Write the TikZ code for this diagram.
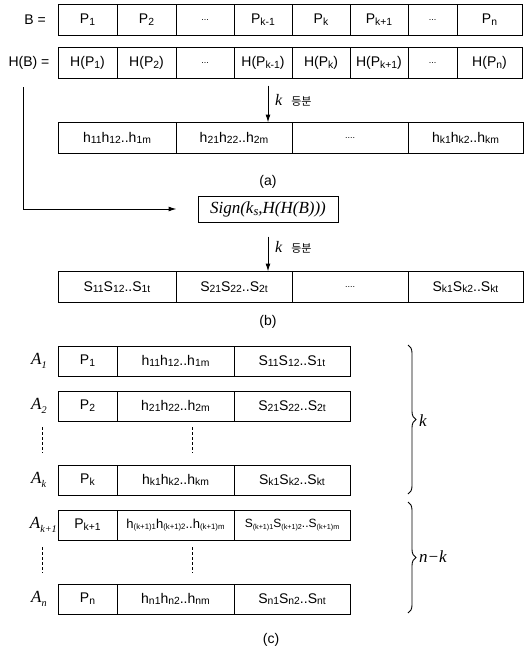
\documentclass[tikz,border=0pt]{standalone}
\usepackage{fontspec}
\setmainfont{Liberation Sans}
\newfontfamily\timesf{Liberation Serif}
\newfontfamily\kor{Noto Sans CJK KR}
\usepackage{tikz}
\usetikzlibrary{positioning, arrows.meta, calc, decorations.pathreplacing}
\newcommand{\bas}[1]{\raisebox{-0.12em}{\scalebox{0.74}{#1}}}
\newcommand{\basp}[1]{\raisebox{-0.1em}{\scalebox{0.6}{#1}}}
\newcommand{\basa}[1]{\raisebox{-0.25em}{\scalebox{0.6}{#1}}}
\tikzset{
	cell/.style={
		draw,
		line width=1pt,
		minimum height=31pt,
		inner sep=0pt,
		outer sep=0pt,
		anchor=west,
		font=\fontsize{14}{16}\selectfont
	},
	fleche/.style={
		-{Latex[length=8pt,width=5pt]},
		line width=1pt
	}
}

\begin{document}
\begin{tikzpicture}[x=1pt, y=-1pt]
		\tikzstyle{lbl}=[inner sep=0pt, font=\fontsize{14}{16}\selectfont]
		\tikzstyle{alab}=[inner sep=0pt, anchor=west, font=\fontsize{17}{19}\selectfont\timesf\itshape]
		\tikzstyle{accol}=[decorate, decoration={brace, amplitude=8pt}, line width=0.9pt]
		\tikzstyle{pointille}=[densely dashed, line width=1pt]
		\useasboundingbox (0,0) rectangle (527,653);
		
		% Ligne B
		\node[lbl] (Blbl) at (35,20) {B =};
		\node[cell, minimum width=59pt] (B1) at (58,20) {P\bas{1}};
		\node[cell, minimum width=59pt, right=0pt of B1] (B2) {P\bas{2}};
		\node[cell, minimum width=58pt, right=0pt of B2] (B3) {\small...};
		\node[cell, minimum width=58pt, right=0pt of B3] (B4) {P\bas{k-1}};
		\node[cell, minimum width=58pt, right=0pt of B4] (B5) {P\bas{k}};
		\node[cell, minimum width=58pt, right=0pt of B5] (B6) {P\bas{k+1}};
		\node[cell, minimum width=49pt, right=0pt of B6] (B7) {\small...};
		\node[cell, minimum width=65pt, right=0pt of B7] (B8) {P\bas{n}};
		
		% Ligne H(B)
		\node[lbl] (HBlbl) at (29,63) {H(B) =};
		\node[cell, minimum width=59pt] (HP1) at (58,63) {H(P\bas{1})};
		\node[cell, minimum width=59pt, right=0pt of HP1] (HP2) {H(P\bas{2})};
		\node[cell, minimum width=58pt, right=0pt of HP2] (HP3) {\small...};
		\node[cell, minimum width=58pt, right=0pt of HP3] (HP4) {H(P\bas{k-1})};
		\node[cell, minimum width=58pt, right=0pt of HP4] (HP5) {H(P\bas{k})};
		\node[cell, minimum width=58pt, right=0pt of HP5] (HP6) {H(P\bas{k+1})};
		\node[cell, minimum width=49pt, right=0pt of HP6] (HP7) {\small...};
		\node[cell, minimum width=65pt, right=0pt of HP7] (HP8) {H(P\bas{n})};
		
		% Ligne h
		\node[cell, minimum width=118pt] (h1) at (58,138) {h\bas{11}h\bas{12}..h\bas{1m}};
		\node[cell, minimum width=116pt, right=0pt of h1] (h2) {h\bas{21}h\bas{22}..h\bas{2m}};
		\node[cell, minimum width=116pt, right=0pt of h2] (h3) {\small....};
		\node[cell, minimum width=115pt, right=0pt of h3] (h4) {h\bas{k1}h\bas{k2}..h\bas{km}};
		\node[lbl] (la) at (268,182) {(a)};
		
		% Signature
		\node[draw, line width=1pt, minimum width=140pt, minimum height=26pt, inner sep=0pt,
			font=\fontsize{17}{19}\selectfont\timesf\itshape] (sign) at (268,209)
			{Sign(k\bas{s},H(H(B)))};
		
		% Ligne S
		\node[cell, minimum width=118pt] (S1) at (58,287) {S\bas{11}S\bas{12}..S\bas{1t}};
		\node[cell, minimum width=116pt, right=0pt of S1] (S2) {S\bas{21}S\bas{22}..S\bas{2t}};
		\node[cell, minimum width=116pt, right=0pt of S2] (S3) {\small....};
		\node[cell, minimum width=115pt, right=0pt of S3] (S4) {S\bas{k1}S\bas{k2}..S\bas{kt}};
		\node[lbl] (lb) at (268,322) {(b)};
		
		%--- Fleches ---
		\coordinate (axe) at (268,0);
		\coordinate (HBpied) at (23,87);
		\draw[fleche] ([yshift=-7pt]axe |- HP4.south) -- (axe |- h2.north);
		\node[lbl, anchor=west] (kd1) at (275,100) {{\timesf\itshape\fontsize{16}{18}\selectfont k}\hspace{9pt}{\kor\fontsize{11}{13}\selectfont 등분}};
		\draw[fleche, shorten >=21pt] (HBpied) |- (sign.west);
		\draw[fleche] ([yshift=-14pt]axe |- sign.south) -- (axe |- S2.north);
		\node[lbl, anchor=west] (kd2) at (275,247) {{\timesf\itshape\fontsize{16}{18}\selectfont k}\hspace{9pt}{\kor\fontsize{11}{13}\selectfont 등분}};
		
		%--- Lignes A ---
		\node[alab] (A1lbl) at (31,361) {A\basa{1}};
		\node[cell, minimum width=59pt, minimum height=30pt] (A1p) at (58,361) {P\bas{1}};
		\node[cell, minimum width=117pt, minimum height=30pt, right=0pt of A1p] (A1h) {h\bas{11}h\bas{12}..h\bas{1m}};
		\node[cell, minimum width=116pt, minimum height=30pt, right=0pt of A1h] (A1s) {S\bas{11}S\bas{12}..S\bas{1t}};
		
		\node[alab] (A2lbl) at (31,406) {A\basa{2}};
		\node[cell, minimum width=59pt, minimum height=30pt] (A2p) at (58,406) {P\bas{2}};
		\node[cell, minimum width=117pt, minimum height=30pt, right=0pt of A2p] (A2h) {h\bas{21}h\bas{22}..h\bas{2m}};
		\node[cell, minimum width=116pt, minimum height=30pt, right=0pt of A2h] (A2s) {S\bas{21}S\bas{22}..S\bas{2t}};
		
		\node[alab] (Aklbl) at (31,480) {A\basa{k}};
		\node[cell, minimum width=59pt, minimum height=30pt] (Akp) at (58,480) {P\bas{k}};
		\node[cell, minimum width=117pt, minimum height=30pt, right=0pt of Akp] (Akh) {h\bas{k1}h\bas{k2}..h\bas{km}};
		\node[cell, minimum width=116pt, minimum height=30pt, right=0pt of Akh] (Aks) {S\bas{k1}S\bas{k2}..S\bas{kt}};
		
		\node[alab, anchor=east] (Ak1lbl) at (57,525) {A\basa{k+1}};
		\node[cell, minimum width=59pt, minimum height=30pt] (Ak1p) at (58,525) {P\bas{k+1}};
		\node[cell, minimum width=117pt, minimum height=30pt, right=0pt of Ak1p, font=\fontsize{13}{15}\selectfont] (Ak1h) {h\basp{(k+1)1}h\basp{(k+1)2}..h\basp{(k+1)m}};
		\node[cell, minimum width=116pt, minimum height=30pt, right=0pt of Ak1h, font=\fontsize{12}{14}\selectfont] (Ak1s) {S\basp{(k+1)1}S\basp{(k+1)2}..S\basp{(k+1)m}};
		
		\node[alab] (Anlbl) at (31,599) {A\basa{n}};
		\node[cell, minimum width=59pt, minimum height=30pt] (Anp) at (58,599) {P\bas{n}};
		\node[cell, minimum width=117pt, minimum height=30pt, right=0pt of Anp] (Anh) {h\bas{n1}h\bas{n2}..h\bas{nm}};
		\node[cell, minimum width=116pt, minimum height=30pt, right=0pt of Anh] (Ans) {S\bas{n1}S\bas{n2}..S\bas{nt}};
		
		% pointilles
		\draw[pointille] (42,427) -- (42,453);
		\draw[pointille] (192,427) -- (192,453);
		\draw[pointille] (42,547) -- (42,573);
		\draw[pointille] (192,547) -- (192,573);
		
		%--- Accolades ---
		\coordinate (acc1h) at (408,345);
		\coordinate (acc1b) at (408,494);
		\coordinate (acc2h) at (408,502);
		\coordinate (acc2b) at (408,613);
		\draw[accol] (acc1h) -- (acc1b);
		\draw[accol] (acc2h) -- (acc2b);
		\node[alab] (lk) at (419,421) {k};
		\node[alab] (lnk) at (419,557) {n−k};
		
		\node[lbl] (lc) at (271,640) {(c)};
	\end{tikzpicture}
\end{document}
